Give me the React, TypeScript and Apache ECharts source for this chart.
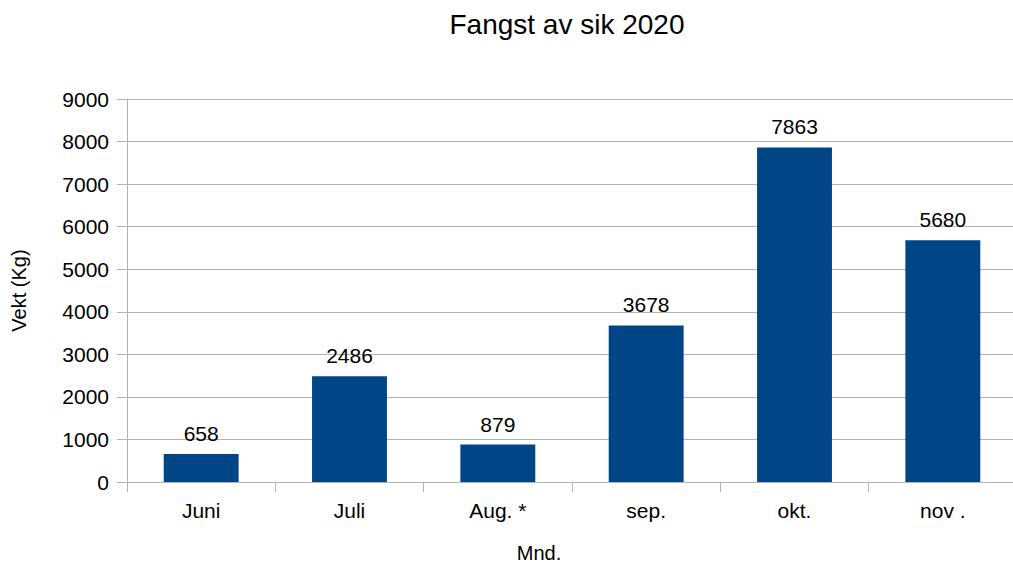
import React, { useEffect, useRef } from "react";
import * as echarts from "echarts";

const categories = ["Juni", "Juli", "Aug. *", "sep.", "okt.", "nov ."];
const values = [658, 2486, 879, 3678, 7863, 5680];
const yTicks = { min: 0, max: 9000, interval: 1000 };

const FONT = "'Liberation Sans', Arial, sans-serif";
const GRID = "#b3b3b3";

export default function App() {
  const ref = useRef<HTMLDivElement>(null);
  useEffect(() => {
    if (!ref.current) return;
    const chart = echarts.init(ref.current, undefined, { renderer: "svg" });
    chart.setOption({
      animation: false,
      backgroundColor: "#ffffff",
      graphic: [
        {
          type: "text",
          x: 567,
          y: 10,
          style: {
            text: "Fangst av sik 2020",
            fontFamily: FONT,
            fontSize: 28,
            fill: "#000",
            textAlign: "center",
          },
        },
      ],
      grid: {
        left: 127,
        right: -4,
        top: 99,
        bottom: 82,
        containLabel: false,
        outerBoundsMode: "none",
      },
      xAxis: {
        type: "category",
        data: categories,
        name: "Mnd.",
        nameLocation: "middle",
        nameGap: 61,
        nameTextStyle: { fontFamily: FONT, fontSize: 20, color: "#000", padding: [0, 66, 0, 0] },
        axisLine: { show: true, lineStyle: { color: GRID, width: 1 } },
        axisTick: { show: true, length: 10, alignWithLabel: false, lineStyle: { color: GRID } },
        axisLabel: { fontFamily: FONT, fontSize: 21, color: "#000", margin: 18 },
      },
      yAxis: {
        type: "value",
        min: yTicks.min,
        max: yTicks.max,
        interval: yTicks.interval,
        name: "Vekt (Kg)",
        nameLocation: "middle",
        nameGap: 98,
        nameTextStyle: { fontFamily: FONT, fontSize: 20, color: "#000" },
        axisLine: { show: true, lineStyle: { color: GRID, width: 1 } },
        axisTick: { show: true, length: 10, lineStyle: { color: GRID } },
        axisLabel: {
          fontFamily: FONT,
          fontSize: 21,
          color: "#000",
          margin: 18,
          formatter: (v: number) => String(v),
        },
        splitLine: { show: true, lineStyle: { color: GRID, width: 1 } },
      },
      series: [
        {
          type: "bar",
          data: values,
          barWidth: "50.5%",
          itemStyle: { color: "#004586" },
          label: {
            show: true,
            position: "top",
            distance: 10,
            fontFamily: FONT,
            fontSize: 21,
            color: "#000",
          },
        },
      ],
    });
    return () => chart.dispose();
  }, []);
  return <div ref={ref} style={{ width: 1013, height: 564, position: "absolute", left: 0, top: 0 }} />;
}
